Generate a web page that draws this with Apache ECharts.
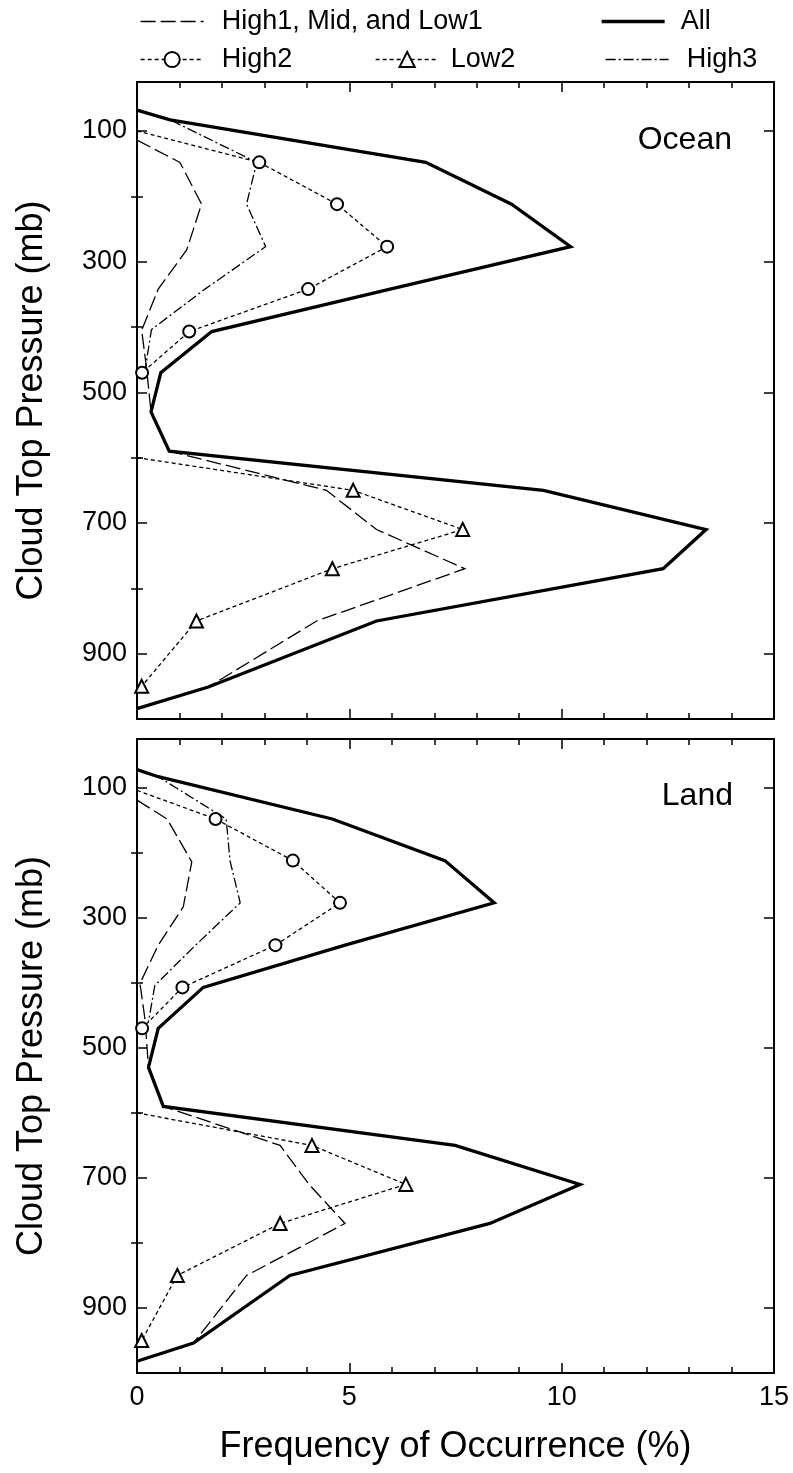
<!DOCTYPE html>
<html>
<head>
<meta charset="utf-8">
<script src="https://cdn.jsdelivr.net/npm/echarts@6/dist/echarts.min.js"></script>
<style>
  html, body { margin: 0; padding: 0; background: #fff; }
  #chart { width: 793px; height: 1473px; }
</style>
</head>
<body>
<div id="chart"></div>
<script>
// pressure levels (mb) and frequencies (%)
const oceanAllP = [68, 83, 148, 212, 277, 342, 407, 470, 530, 590, 650, 710, 770, 850, 951, 984];
const oceanAll = [0, 0.78, 6.80, 8.82, 10.21, 5.96, 1.76, 0.56, 0.33, 0.76, 9.57, 13.40, 12.39, 5.64, 1.68, 0];
const landAllP = [72, 83, 148, 212, 277, 342, 407, 470, 530, 590, 650, 710, 770, 850, 954, 982];
const landAll = [0, 0.50, 4.60, 7.25, 8.41, 4.90, 1.56, 0.50, 0.27, 0.62, 7.49, 10.43, 8.31, 3.60, 1.33, 0];

const oceanHmlP = [114, 148, 212, 282, 342, 405, 466, 530, 590, 650, 710, 770, 850, 951, 984];
const oceanHml = [0, 1.01, 1.52, 1.17, 0.50, 0.11, 0.23, 0.33, 0.76, 4.46, 5.64, 7.72, 4.23, 1.68, 0];
const landHmlP = [119, 148, 214, 283, 342, 401, 457, 530, 590, 650, 710, 770, 850, 954, 982];
const landHml = [0, 0.71, 1.29, 1.09, 0.50, 0.07, 0.19, 0.27, 0.62, 3.37, 4.05, 4.90, 2.58, 1.33, 0];

const oceanHigh2P = [100, 148, 212, 277, 342, 407, 470];
const oceanHigh2 = [0, 2.88, 4.71, 5.89, 4.03, 1.23, 0.12];
const landHigh2P = [104, 148, 212, 277, 342, 407, 470];
const landHigh2 = [0, 1.85, 3.67, 4.78, 3.26, 1.07, 0.12];

const oceanHigh3P = [68, 83, 148, 212, 277, 342, 404, 466];
const oceanHigh3 = [0, 0.78, 2.82, 2.58, 3.03, 1.60, 0.34, 0.19];
const landHigh3P = [72, 83, 148, 212, 277, 342, 404, 460];
const landHigh3 = [0, 0.50, 2.10, 2.19, 2.43, 1.38, 0.42, 0.27];

const low2P = [600, 650, 710, 770, 850, 950];
const oceanLow2 = [0, 5.09, 7.67, 4.60, 1.40, 0.11];
const landLow2 = [0, 4.12, 6.33, 3.37, 0.95, 0.11];

const yMajor = [100, 300, 500, 700, 900];
const yMinor = [200, 400, 600, 800];

const FONT = "'Liberation Sans', Arial, Helvetica, sans-serif";

const chart = echarts.init(document.getElementById('chart'), null, {renderer: 'canvas'});

function pairs(xs, ps, firstBare) {
  return xs.map((v, i) => {
    if (firstBare && i === 0) return {value: [v, ps[i]], symbol: 'none'};
    return [v, ps[i]];
  });
}

const styles = {
  'High1, Mid, and Low1': {lineStyle: {type: [15, 5], width: 1.3}, symbol: 'none'},
  'All': {lineStyle: {type: 'solid', width: 3.3}, symbol: 'none'},
  'High2': {lineStyle: {type: [4, 3], width: 1.3}, symbol: 'emptyCircle', symbolSize: 12},
  'Low2': {lineStyle: {type: [4, 3], width: 1.3}, symbol: 'emptyTriangle', symbolSize: 13},
  'High3': {lineStyle: {type: [10, 3, 2, 3], width: 1.3}, symbol: 'none'}
};

function makeSeries(g, name, xs, ps) {
  const st = styles[name];
  const hasSym = st.symbol !== 'none';
  return {
    type: 'line',
    name: name,
    xAxisIndex: g * 2,
    yAxisIndex: g * 4,
    data: pairs(xs, ps, hasSym),
    symbol: st.symbol,
    symbolSize: st.symbolSize || 0,
    showSymbol: hasSym,
    lineStyle: Object.assign({color: '#000', cap: 'butt', join: 'miter'}, st.lineStyle),
    itemStyle: {color: '#000', borderColor: '#000', borderWidth: 1.2},
    emphasis: {disabled: true},
    animation: false,
    z: name === 'All' ? 3 : (hasSym ? 4 : 2)
  };
}

function xAxes(g) {
  const base = {
    type: 'value', gridIndex: g, min: 0, max: 15, interval: 5,
    axisLine: {show: true, onZero: false, lineStyle: {color: '#000', width: 2}},
    axisTick: {show: true, inside: true, length: 10, lineStyle: {color: '#000', width: 1.5}},
    minorTick: {show: true, splitNumber: 5, length: 6, lineStyle: {color: '#000', width: 1.5}},
    splitLine: {show: false},
    minorSplitLine: {show: false},
    axisLabel: {show: false}
  };
  const bottom = Object.assign({}, base, {position: 'bottom'});
  if (g === 1) {
    bottom.axisLabel = {show: true, fontSize: 27, fontFamily: FONT, color: '#000', margin: 11};
    bottom.name = 'Frequency of Occurrence (%)';
    bottom.nameLocation = 'middle';
    bottom.nameGap = 56;
    bottom.nameTextStyle = {fontSize: 36, fontFamily: FONT, color: '#000'};
  }
  const top = Object.assign({}, base, {position: 'top'});
  return [bottom, top];
}

function yAxes(g) {
  const base = {
    type: 'value', gridIndex: g, min: 25, max: 1000, inverse: true,
    splitLine: {show: false},
    axisLabel: {show: false}
  };
  const line = {show: true, onZero: false, lineStyle: {color: '#000', width: 2}};
  const tickMajor = {show: true, inside: true, length: 10, customValues: yMajor, lineStyle: {color: '#000', width: 1.5}};
  const tickMinor = {show: true, inside: true, length: 6, customValues: yMinor, lineStyle: {color: '#000', width: 1.5}};
  return [
    Object.assign({}, base, {
      position: 'left', axisLine: line, axisTick: tickMajor,
      axisLabel: {show: true, customValues: yMajor, fontSize: 27, fontFamily: FONT, color: '#000', margin: 10},
      name: 'Cloud Top Pressure (mb)', nameLocation: 'middle', nameGap: 87,
      nameTextStyle: {fontSize: 36, fontFamily: FONT, color: '#000'}
    }),
    Object.assign({}, base, {position: 'left', axisLine: {show: false}, axisTick: tickMinor}),
    Object.assign({}, base, {position: 'right', axisLine: line, axisTick: tickMajor}),
    Object.assign({}, base, {position: 'right', axisLine: {show: false}, axisTick: tickMinor})
  ];
}

function legendItem(name, left, top, padLeft, hideSymbol, lineWidth) {
  const lg = {
    data: [name], left: left, top: top, padding: 0,
    itemWidth: 63, itemHeight: 19, selectedMode: false,
    textStyle: {fontSize: 27, fontFamily: FONT, color: '#000', padding: [0, 0, 0, padLeft]},
    lineStyle: {width: lineWidth}
  };
  if (hideSymbol) lg.itemStyle = {opacity: 0};
  else lg.itemStyle = {borderWidth: 1.2};
  return lg;
}

const option = {
  backgroundColor: '#fff',
  animation: false,
  grid: [
    {left: 137, top: 82, width: 637, height: 637, outerBoundsMode: 'none'},
    {left: 137, top: 739, width: 637, height: 634, outerBoundsMode: 'none'}
  ],
  title: [
    {text: 'Ocean', right: 61, top: 124, padding: 0,
      textStyle: {fontSize: 32, fontWeight: 'normal', fontFamily: FONT, color: '#000'}},
    {text: 'Land', right: 60, top: 780, padding: 0,
      textStyle: {fontSize: 32, fontWeight: 'normal', fontFamily: FONT, color: '#000'}}
  ],
  legend: [
    legendItem('High1, Mid, and Low1', 140, 8, 13, true, 1.3),
    legendItem('All', 600, 8, 11, true, 3.3),
    legendItem('High2', 140, 46, 13, false, 1.3),
    legendItem('Low2', 375, 46, 7, false, 1.3),
    legendItem('High3', 605, 46, 13, true, 1.3)
  ],
  xAxis: [].concat(xAxes(0), xAxes(1)),
  yAxis: [].concat(yAxes(0), yAxes(1)),
  series: [
    makeSeries(0, 'High1, Mid, and Low1', oceanHml, oceanHmlP),
    makeSeries(0, 'High3', oceanHigh3, oceanHigh3P),
    makeSeries(0, 'All', oceanAll, oceanAllP),
    makeSeries(0, 'High2', oceanHigh2, oceanHigh2P),
    makeSeries(0, 'Low2', oceanLow2, low2P),
    makeSeries(1, 'High1, Mid, and Low1', landHml, landHmlP),
    makeSeries(1, 'High3', landHigh3, landHigh3P),
    makeSeries(1, 'All', landAll, landAllP),
    makeSeries(1, 'High2', landHigh2, landHigh2P),
    makeSeries(1, 'Low2', landLow2, low2P)
  ]
};

chart.setOption(option);
</script>
</body>
</html>
